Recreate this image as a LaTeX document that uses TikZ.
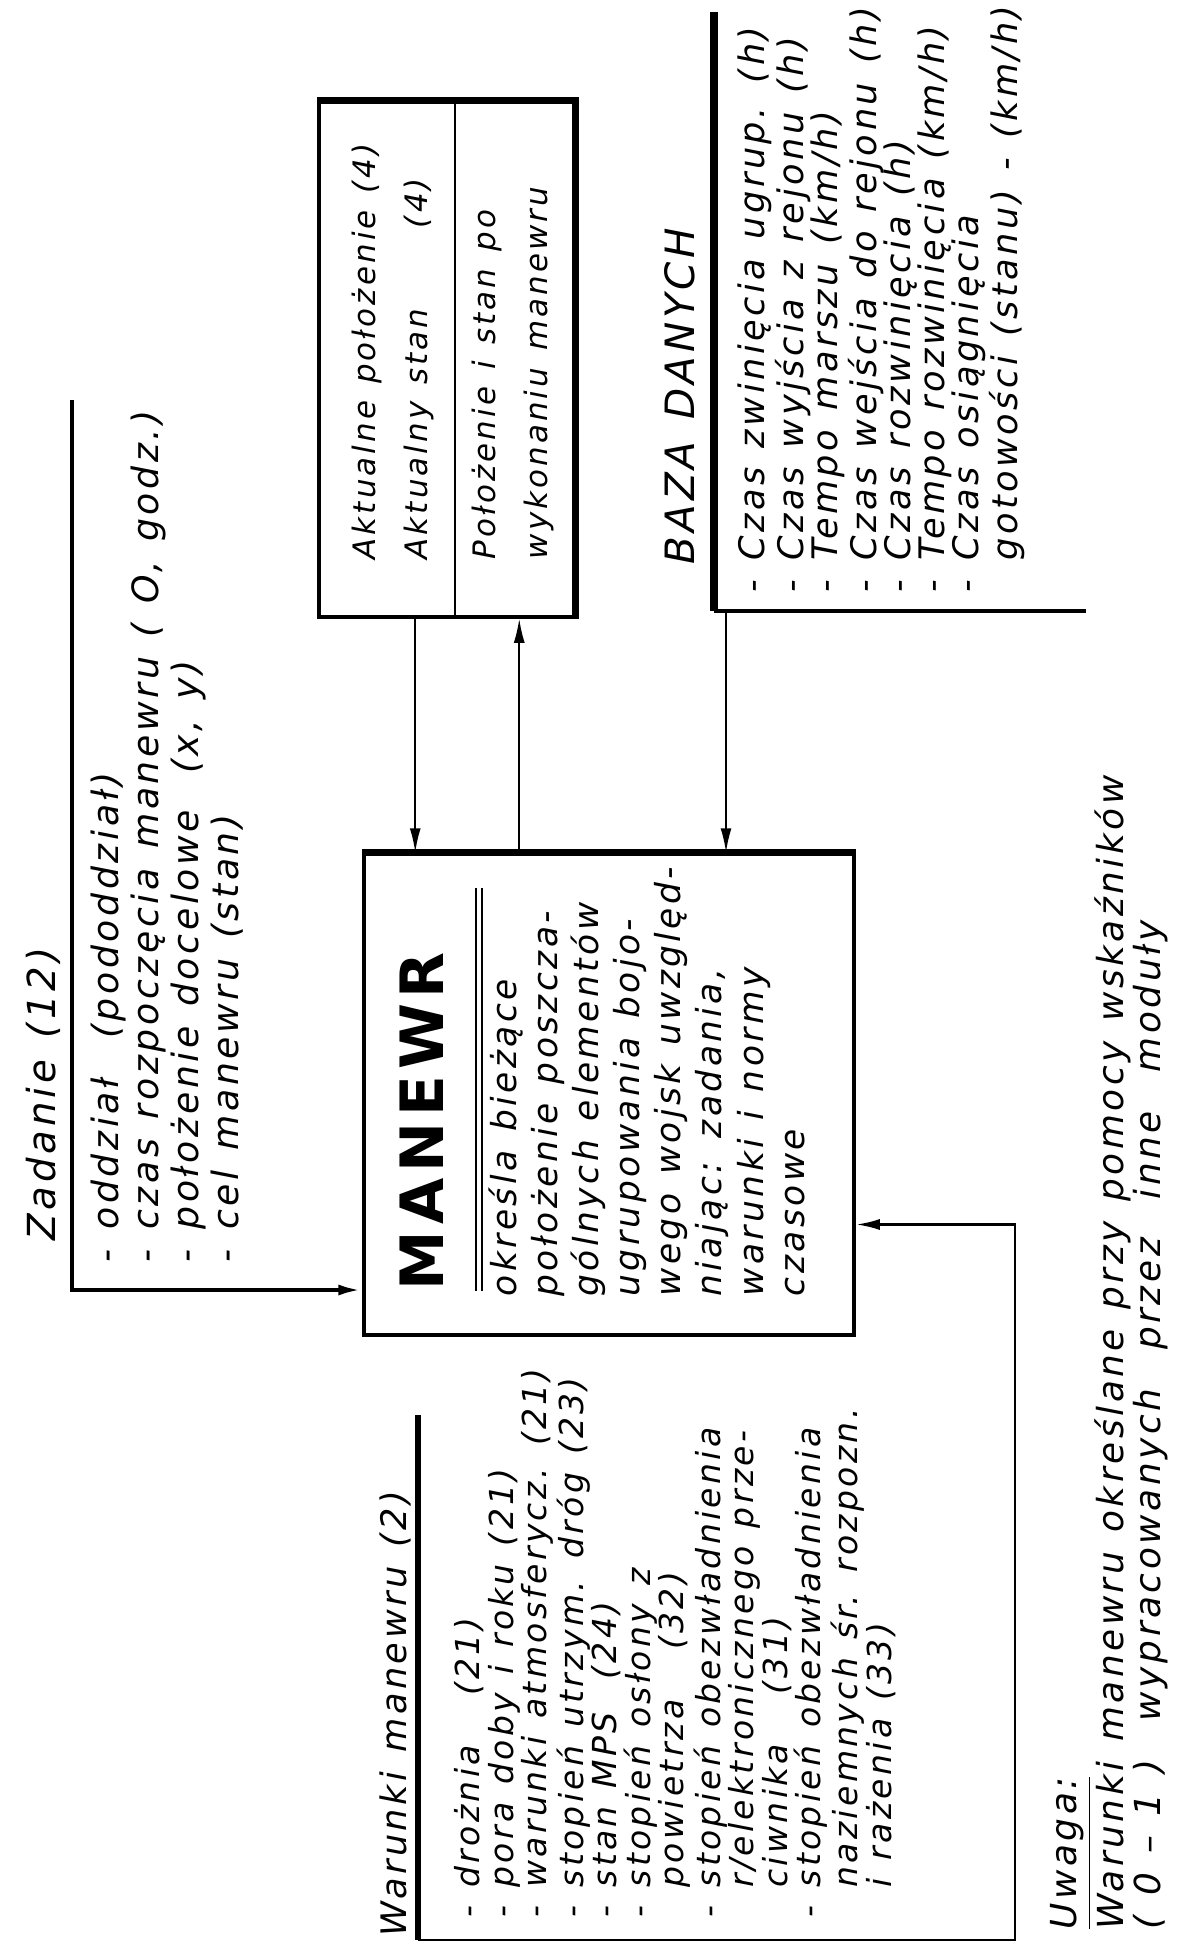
\documentclass[tikz,border=0pt]{standalone}
\usepackage{fontspec}
\newfontfamily\hand[LetterSpace=10,WordSpace=1.3]{DejaVu Sans}
\usetikzlibrary{arrows.meta}

\begin{document}
\begin{tikzpicture}[x=0.1mm,y=-0.1mm,>={Latex[length=2.4mm,width=1.1mm]},
  tekst/.style={rotate=90,anchor=north west,align=left,inner sep=0pt},
  tytul/.style={rotate=90,anchor=west,inner sep=0pt},
  ramka/.style={draw,line width=1pt,inner sep=0pt},
  gruba/.style={line width=2pt},
  cienka/.style={line width=0.5pt}]
\useasboundingbox (0,0) rectangle (1183,1947);

% bloki
\node[ramka,minimum width=49mm,minimum height=48.1mm] (manewr) at (609,1094.5) {};
\node[ramka,minimum width=25.5mm,minimum height=51.5mm] (stan) at (446.5,359.5) {};
\draw[gruba] (manewr.north west) -- (manewr.north east);
\draw[gruba] (stan.north west) -- (stan.north east) -- (stan.south east);
\draw[cienka] ([xshift=13.8mm]stan.north west) -- ([xshift=13.8mm]stan.south west);

% stan <-> manewr
\coordinate (s1) at ([xshift=9.8mm]stan.south west);
\coordinate (s2) at ([xshift=20.2mm]stan.south west);
\draw[cienka,->] (s1) -- (s1 |- manewr.north);
\draw[cienka,->] (s2 |- manewr.north) -- (s2);

% baza danych
\coordinate (bazagora) at (714,12);
\coordinate (bazarog) at (714,611);
\draw[gruba] (bazagora) -- (bazarog);
\draw[line width=1pt] (bazarog) -- ++(372,0);
\coordinate (b1) at ([xshift=1.2mm]bazarog);
\draw[cienka,->] (b1) -- (b1 |- manewr.north);

% zadanie
\coordinate (zadgora) at (72,400);
\coordinate (zadrog) at (72,1290);
\draw[line width=1.2pt,->] (zadgora) -- (zadrog) -- (zadrog -| manewr.west);

% warunki
\coordinate (wargora) at (418,1415);
\coordinate (warrog) at (1015,1940);
\coordinate (warwej) at ([yshift=-13mm]manewr.east);
\draw[line width=1.5pt] (wargora) -- (wargora |- warrog);
\draw[line width=0.8pt,->] (wargora |- warrog) -- (warrog) |- (warwej);

% teksty
\node[tytul,font=\hand\itshape\fontsize{11}{13}\selectfont] (zadanie) at (43,1241) {Zadanie (12)};
\node[tekst,font=\hand\itshape\fontsize{10.3}{11.4}\selectfont] (zadlista) at (90,1263)
  {- oddział\ \ (pododdział)\\- czas rozpoczęcia manewru ( O, godz.)\\- położenie docelowe\hspace{1em}(x, y)\\- cel manewru (stan)};

\node[tekst,font=\hand\itshape\fontsize{8.8}{15}\selectfont] (stantekst) at (351,560)
  {Aktualne położenie (4)\\Aktualny stan\hspace{2.6em}(4)};
\node[tekst,font=\hand\itshape\fontsize{8.8}{15}\selectfont] (potekst) at (471,560)
  {Położenie i stan po\\wykonaniu manewru};

\node[tytul,font=\hand\itshape\fontsize{11.5}{13}\selectfont] (baza) at (680,565) {BAZA DANYCH};
\node[tekst,font=\hand\itshape\fontsize{10}{9.7}\selectfont] (bazalista) at (737,593)
  {- Czas zwinięcia ugrup. (h)\\- Czas wyjścia z rejonu (h)\\- Tempo marszu (km/h)\\- Czas wejścia do rejonu (h)\\- Czas rozwinięcia (h)\\- Tempo rozwinięcia (km/h)\\- Czas osiągnięcia\\\hphantom{- }gotowości (stanu) - (km/h)};

\node[tytul,font=\hand\bfseries\fontsize{17}{20}\selectfont] (tytulm) at (422,1291) {MANEWR};
\draw[double distance=1.2pt,thin] (479,888) -- (479,1291);
\node[tekst,font=\hand\itshape\fontsize{9.8}{11.7}\selectfont] (opis) at (488,1297)
  {określa bieżące\\położenie poszcza-\\gólnych elementów\\ugrupowania bojo-\\wego wojsk uwzględ-\\niając: zadania,\\warunki i normy\\czasowe};

\node[tytul,font=\hand\itshape\fontsize{10}{12}\selectfont] (warunki) at (395,1937) {Warunki manewru (2)};
\node[tekst,font=\hand\itshape\fontsize{9.4}{9.5}\selectfont] (warlista) at (454,1918)
  {- drożnia\hspace{1.5em}(21)\\- pora doby i roku (21)\\- warunki atmosferycz. (21)\\- stopień utrzym. dróg (23)\\- stan MPS\hspace{1em}(24)\\- stopień osłony z\\\hphantom{- }powietrza\hspace{1.5em}(32)\\- stopień obezwładnienia\\\hphantom{- }r/elektronicznego prze-\\\hphantom{- }ciwnika\hspace{1.5em}(31)\\- stopień obezwładnienia\\\hphantom{- }naziemnych śr. rozpozn.\\\hphantom{- }i rażenia (33)};

\node[tekst,font=\hand\itshape\fontsize{10.2}{10.5}\selectfont] (uwaga) at (1050,1930)
  {\underline{Uwaga:}\\Warunki manewru określane przy pomocy wskaźników\\(\ 0 – 1\ )\ \ wypracowanych\ \ przez\ \ inne\ \ moduły};
\end{tikzpicture}
\end{document}
